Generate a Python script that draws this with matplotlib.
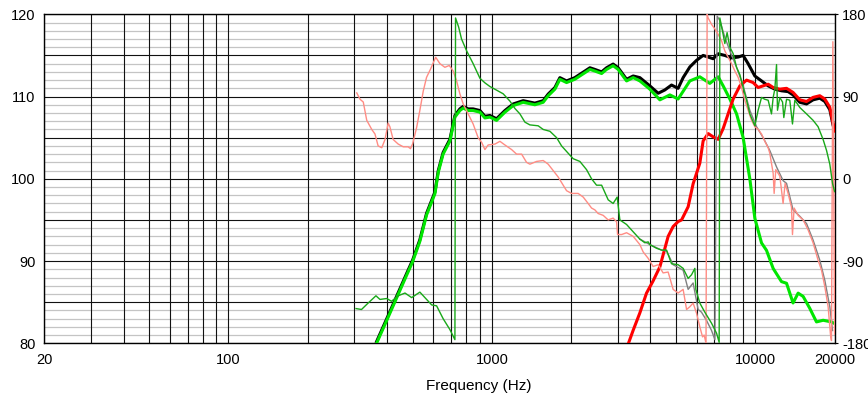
import matplotlib
matplotlib.use("Agg")
import matplotlib.pyplot as plt
from matplotlib.ticker import FixedLocator, NullFormatter

plt.rcParams['font.family'] = ['Liberation Sans', 'DejaVu Sans']

# ---------------- data ----------------
# Woofer SPL (dB)
wf_f = [365, 403, 475, 500, 533, 565, 608, 626, 653, 693, 724, 756, 778, 813, 849, 901, 941, 983, 1042, 1121,
        1205, 1315, 1456, 1566, 1636, 1735, 1812, 1921, 2065, 2255, 2356, 2460, 2610, 2725, 2886, 3016, 3246, 3439,
        3646, 3978, 4343, 4739, 5094, 5643, 6158, 6721, 7228, 7550, 8006, 8489, 8992, 9533, 9960, 10560, 11030,
        11690, 12570, 13140, 13910, 14540, 15190, 16100, 17070, 18090, 19460, 20000]
wf_db = [80.0, 83.1, 88.3, 89.9, 92.4, 95.6, 98.2, 100.8, 103.0, 104.6, 107.5, 108.3, 108.6, 108.3, 108.3, 108.1,
         107.4, 107.5, 107.1, 108.1, 108.9, 109.3, 109.0, 109.3, 110.1, 110.9, 112.1, 111.7, 112.1, 112.9, 113.3,
         113.1, 112.8, 113.3, 113.75, 113.3, 111.9, 112.3, 111.9, 110.9, 109.6, 110.2, 109.7, 111.9, 112.4, 111.6,
         112.4, 111.3, 109.7, 107.9, 105.0, 100.0, 95.2, 92.2, 91.3, 89.1, 87.5, 87.3, 84.9, 86.1, 85.7, 84.25,
         82.6, 82.8, 82.6, 82.4]

# Tweeter SPL (dB)
tw_f = [3300, 3440, 3646, 3864, 4096, 4343, 4668, 4877, 5094, 5250, 5560, 5808, 6158, 6338, 6622, 6918, 7228,
        7550, 7886, 8240, 8738, 9264, 9812, 10250, 10710, 11190, 11690, 12390, 13140, 13910, 14760, 15650, 16570,
        17570, 18360, 19180, 19740, 20000]
tw_db = [80.0, 81.6, 83.7, 86.1, 87.6, 89.3, 93.0, 94.2, 94.8, 95.0, 96.6, 99.4, 101.9, 104.6, 105.5, 105.1, 104.8,
         106.1, 107.9, 109.7, 111.3, 112.0, 111.7, 111.1, 111.3, 111.5, 111.1, 110.9, 111.0, 110.5, 109.6, 109.4,
         109.9, 110.1, 109.7, 108.7, 106.7, 105.8]

# System sum SPL (dB)
sum_f = [365, 403, 475, 500, 533, 565, 608, 626, 653, 693, 724, 756, 778, 813, 849, 901, 941, 983, 1042, 1121,
         1205, 1315, 1456, 1566, 1636, 1735, 1812, 1921, 2065, 2255, 2356, 2460, 2610, 2725, 2886, 3016, 3246, 3439,
         3646, 3978, 4278, 4534, 4808, 5094, 5322, 5643, 5982, 6338, 6622, 6918, 7228, 7662, 8124, 8608, 8992,
         9392, 9960, 10560, 11190, 11860, 12570, 13320, 13910, 14760, 15650, 16570, 17570, 18360, 19180, 19740,
         20000]
sum_db = [80.2, 83.3, 88.5, 90.1, 92.6, 95.8, 98.4, 101.0, 103.2, 104.8, 107.7, 108.5, 108.8, 108.5, 108.5, 108.3,
          107.6, 107.7, 107.3, 108.3, 109.1, 109.5, 109.2, 109.5, 110.3, 111.1, 112.3, 111.9, 112.3, 113.1, 113.5,
          113.3, 113.0, 113.5, 113.95, 113.5, 112.1, 112.5,
          112.3, 111.3, 110.4, 110.8, 111.4, 111.0, 112.3, 113.6, 114.4, 115.0, 114.8, 114.6, 115.2, 115.0, 114.7,
          114.8, 115.0, 114.0, 112.5, 111.9, 111.3, 110.9, 110.7, 110.6, 110.2, 109.3, 109.1, 109.6, 109.8, 109.4,
          108.4, 106.5, 105.9]

# Woofer phase (deg)
wp_f = [305, 320, 339, 363, 376, 399, 416, 441, 468, 496, 533, 557, 591, 617, 653, 693, 724, 728, 748, 767,
        802, 849, 901, 941, 983, 1042, 1104, 1171, 1223, 1278, 1335, 1394, 1499, 1566, 1661, 1761, 1839, 1948,
        2035, 2158, 2288, 2390, 2497, 2610, 2764, 2886, 2990, 3061, 3246, 3439, 3646, 3808, 3920, 3978, 4218,
        4406, 4604, 4808, 5094, 5322, 5560, 5728, 5896, 5948, 6158, 6434, 6822, 7128, 7292, 7336, 7550, 7662,
        7816, 8006, 8240, 8489, 8738, 8992, 9264, 9533, 9960, 10250, 10560, 10870, 11190, 11520, 11690, 11860,
        12040, 12140, 12390, 12690, 12830, 13140, 13520, 13840, 14130, 14760, 15650, 16570, 17310, 18090, 18640,
        19180, 19640, 20000]
wp_deg = [-142, -143, -136, -128, -132, -131, -134, -128, -125, -130, -124, -130, -138, -139, -153, -165, -176, 176,
          166, 153, 140, 126, 110, 105, 101, 97, 93, 85, 77, 71, 62, 59, 58, 54, 52, 45, 36, 28, 22, 19, 10, 0, -7,
          -7, -23, -27, -20, -45, -50, -58, -66, -70, -69, -72, -76, -78, -78, -93, -94, -98, -109, -105, -98, -121,
          -136, -146, -158, -169, -179, 176, 158, 148, 160, 144, 137, 122, 114, 100, 86, 71, 58, 75, 89, 87, 86, 71,
          89, 98, 125, 75, 89, 84, 67, 87, 86, 60, 86, 78, 71, 64, 57, 43, 31, 16, -5, -14]

# Tweeter phase (deg)
tp_f = [307, 316, 325, 335, 350, 360, 370, 382, 393, 404, 410, 422, 441, 461, 481, 491, 500, 518, 533, 549, 565,
        585, 612, 635, 663, 689, 713, 735, 756, 778, 813, 849, 887, 914, 941, 968, 1027, 1073, 1121, 1188, 1241,
        1297, 1354, 1394, 1478, 1566, 1636, 1709, 1785, 1921, 2007, 2126, 2222, 2320, 2390, 2460, 2532, 2646,
        2764, 2886, 2974, 3000, 3108, 3246, 3439, 3646, 3752, 3920, 4096, 4278, 4468, 4668, 4877, 5094, 5322,
        5484, 5643, 5808, 5982, 6158, 6306, 6394, 6500, 6564, 6622, 6822, 7024, 7228, 7446, 7662, 7886, 8124,
        8364, 8608, 8866, 9127, 9392, 9676, 9960, 10250, 10560, 10870, 11190, 11350, 11690, 11790, 11960, 12390,
        12750, 12980, 13320, 13720, 13840, 14040, 14540, 15190, 15870, 16570, 17310, 17840, 18360, 18900, 19300,
        19460, 19700, 20000]
tp_deg = [94, 87, 84, 64, 54, 49, 36, 34, 43, 61, 57, 43, 38, 35, 35, 33, 38, 56, 75, 96, 111, 120, 133, 126, 122,
          124, 118, 107, 93, 82, 71, 60, 45, 40, 32, 37, 38, 41, 37, 32, 27, 27, 18, 16, 19, 20, 16, 9, 2, -13, -16,
          -16, -20, -27, -32, -34, -38, -40, -45, -43, -47, -61, -61, -59, -63, -72, -80, -87, -96, -94, -103, -102,
          -121, -125, -121, -143, -140, -136, -147, -162, -173, -171, -180, 180, 176, 169, 164, 158, 151, 140, 133,
          126, 118, 111, 100, 86, 75, 64, 57, 54, 49, 41, 34, 28, 6, -16, 10, 3, -27, -5, -16, -31, -61, -32, -40,
          -45, -56, -70, -89, -100, -118, -140, -171, -177, 150, -170]

# Sum phase (deg)
sp_f = [3646, 3978, 4406, 4604, 4877, 5322, 5560, 5808, 6068, 6250, 6530, 6822, 7024, 7166, 7336, 7662, 8006,
        8489, 8992, 9533, 10110, 10710, 11350, 12040, 12750, 13140, 13910, 14760, 15650, 16570, 17570, 18360,
        19180, 19640]
sp_deg = [-66, -72, -78, -79, -94, -100, -121, -114, -143, -146, -155, -166, -176, 178, 173, 155, 140, 122, 102, 75,
          57, 45, 31, 13, -2, -5, -34, -41, -49, -67, -89, -111, -140, -166]

x_ticks = [20, 100, 1000, 10000, 20000]
x_ticklabels = ['20', '100', '1000', '10000', '20000']
y_ticks = [80, 90, 100, 110, 120]
phase_ticks = [-180, -90, 0, 90, 180]

# ---------------- plot ----------------
W, H = 868, 396
fig = plt.figure(figsize=(W / 100, H / 100), dpi=100)
L, R, T, B = 44.3, 834.6, 14.3, 343.3
ax = fig.add_axes([L / W, 1 - B / H, (R - L) / W, (B - T) / H])

ax.set_xscale('log')
ax.set_xlim(20, 20000)
ax.set_ylim(80, 120)

minor_x = [m * d for d in (10, 100, 1000) for m in range(2, 10) if 20 < m * d < 20000]
ax.xaxis.set_major_locator(FixedLocator(x_ticks))
ax.xaxis.set_minor_locator(FixedLocator(minor_x))
ax.set_xticklabels(x_ticklabels)
ax.xaxis.set_minor_formatter(NullFormatter())

major_y = list(range(80, 121, 5))
ax.yaxis.set_major_locator(FixedLocator(major_y))
ax.set_yticklabels([str(v) if v in y_ticks else '' for v in major_y])
ax.yaxis.set_minor_locator(FixedLocator([v for v in range(80, 121) if v % 5]))

ax.grid(which='minor', axis='y', color='#c4c4c4', lw=0.9)
ax.grid(which='major', axis='y', color='#111111', lw=0.8)
ax.grid(which='both', axis='x', color='#111111', lw=0.8)
# vertical grid lines drawn above the light horizontal ones
ax.yaxis.set_zorder(1.2)
ax.xaxis.set_zorder(1.4)

ax.tick_params(axis='both', which='both', length=0, labelsize=10.5)
ax.tick_params(axis='x', pad=7)
ax.tick_params(axis='y', pad=6.5)
for s in ax.spines.values():
    s.set_color('black')
    s.set_linewidth(1.0)

# SPL curves
ax.plot(sum_f, sum_db, color='black', lw=2.2, solid_joinstyle='round', zorder=3)
ax.plot(wf_f, wf_db, color='#00e600', lw=2.2, solid_joinstyle='round', zorder=4)
ax.plot(tw_f, tw_db, color='#ff0000', lw=2.2, solid_joinstyle='round', zorder=5)

# Phase curves on right axis
ax2 = ax.twinx()
ax2.set_ylim(-180, 180)
ax2.set_yticks(phase_ticks)
ax2.set_yticklabels([str(v) for v in phase_ticks])
ax2.tick_params(axis='y', length=2, pad=3.5, labelsize=10.5)
for s in ax2.spines.values():
    s.set_visible(False)

ax2.plot(sp_f, sp_deg, color='#808080', lw=1.0, zorder=2)
ax2.plot(tp_f, tp_deg, color='#ff8c84', lw=1.0, zorder=3)
ax2.plot(wp_f, wp_deg, color='#18a818', lw=1.0, zorder=4)
ax2.set_xlim(20, 20000)

fig.text(479 / W, 1 - 386 / H, 'Frequency (Hz)', ha='center', va='center', fontsize=11)

fig.savefig('out.png', dpi=100)
